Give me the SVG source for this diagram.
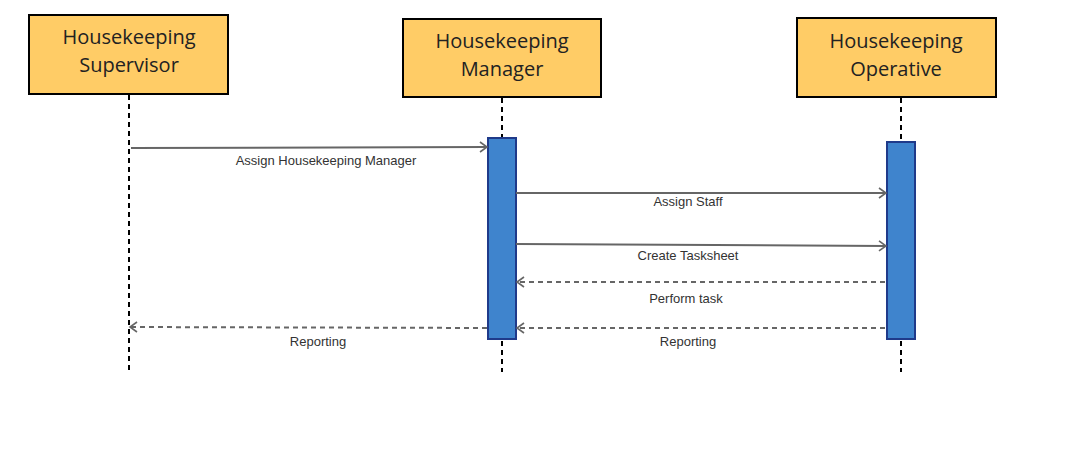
<svg xmlns="http://www.w3.org/2000/svg" width="1079" height="456" viewBox="0 0 1079 456">
<defs>
<style>
.box{fill:#FFCC66;stroke:#000;stroke-width:2}
.title{font-family:"Open Sans","Liberation Sans",sans-serif;font-size:20px;fill:#222;text-anchor:middle}
.life{stroke:#000;stroke-width:2;stroke-dasharray:5,4;fill:none}
.act{fill:#3F84CD;stroke:#1F3A8A;stroke-width:2}
.msg{stroke:#666;stroke-width:2;fill:none}
.ret{stroke:#666;stroke-width:2;fill:none;stroke-dasharray:5,4}
.lbl{font-family:"Liberation Sans",Arial,sans-serif;font-size:13px;fill:#333;text-anchor:middle}
</style>
<marker id="arr" markerWidth="12" markerHeight="12" refX="10" refY="6" orient="auto" markerUnits="userSpaceOnUse">
<path d="M3,1 L10,6 L3,11" fill="none" stroke="#666" stroke-width="1.6"/>
</marker>
</defs>
<rect width="1079" height="456" fill="#fff"/>
<g id="supervisor">
<line class="life" x1="129" y1="95" x2="129" y2="370"/>
<rect class="box" x="29" y="15" width="199" height="79"/>
<text class="title" x="129" y="44">Housekeeping</text>
<text class="title" x="129" y="72">Supervisor</text>
</g>
<g id="manager">
<line class="life" x1="502" y1="98" x2="502" y2="372"/>
<rect class="box" x="403" y="19" width="198" height="78"/>
<text class="title" x="502" y="48">Housekeeping</text>
<text class="title" x="502" y="76">Manager</text>
<rect class="act" x="488" y="138" width="28" height="201"/>
</g>
<g id="operative">
<line class="life" x1="901" y1="98" x2="901" y2="372"/>
<rect class="box" x="797" y="18" width="199" height="79"/>
<text class="title" x="896" y="48">Housekeeping</text>
<text class="title" x="896" y="76">Operative</text>
<rect class="act" x="887" y="142" width="28" height="197"/>
</g>
<g id="connectors">
<line class="msg" x1="131" y1="148" x2="487" y2="147" marker-end="url(#arr)"/>
<text class="lbl" x="326" y="165">Assign Housekeeping Manager</text>
<line class="msg" x1="516" y1="193" x2="886" y2="193" marker-end="url(#arr)"/>
<text class="lbl" x="688" y="206">Assign Staff</text>
<line class="msg" x1="516" y1="244" x2="886" y2="246" marker-end="url(#arr)"/>
<text class="lbl" x="688" y="260">Create Tasksheet</text>
<line class="ret" x1="885" y1="282" x2="517" y2="282" marker-end="url(#arr)"/>
<text class="lbl" x="686" y="303">Perform task</text>
<line class="ret" x1="885" y1="328" x2="517" y2="328" marker-end="url(#arr)"/>
<text class="lbl" x="688" y="346">Reporting</text>
<line class="ret" x1="487" y1="328" x2="130" y2="327" marker-end="url(#arr)"/>
<text class="lbl" x="318" y="346">Reporting</text>
</g>
</svg>
